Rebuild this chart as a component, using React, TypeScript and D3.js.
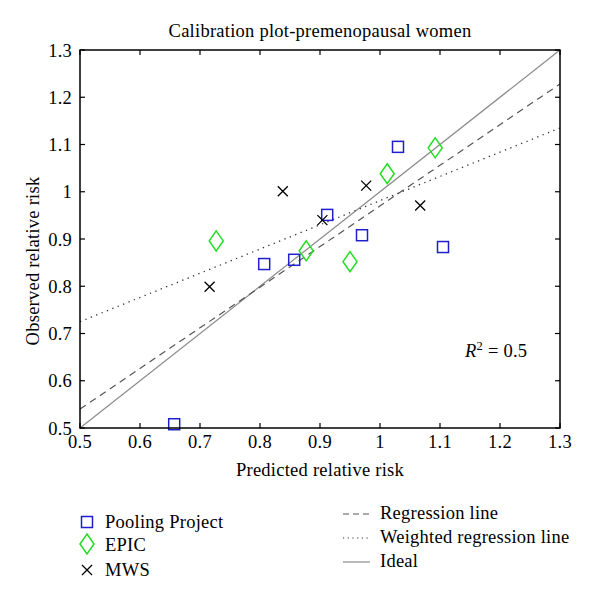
import React from "react";
import * as d3 from "d3";

const poolingX = [0.657, 0.807, 0.857, 0.912, 0.970, 1.030, 1.105];
const poolingY = [0.508, 0.847, 0.856, 0.951, 0.908, 1.095, 0.883];
const epicX = [0.727, 0.877, 0.950, 1.012, 1.092];
const epicY = [0.896, 0.875, 0.852, 1.038, 1.093];
const mwsX = [0.716, 0.838, 0.904, 0.977, 1.067];
const mwsY = [0.799, 1.001, 0.940, 1.013, 0.971];

const regressionLine = [[0.5, 0.54], [1.3, 1.228]];
const weightedLine = [[0.5, 0.725], [1.3, 1.135]];
const idealLine = [[0.5, 0.5], [1.3, 1.3]];

const xTicks = [0.5, 0.6, 0.7, 0.8, 0.9, 1.0, 1.1, 1.2, 1.3];
const yTicks = [0.5, 0.6, 0.7, 0.8, 0.9, 1.0, 1.1, 1.2, 1.3];

const FONT = "'Liberation Serif', 'Times New Roman', serif";
const FS = 18.5;
const LS = 0.25;

export default function App() {
  const W = 600, H = 601;
  const x = d3.scaleLinear().domain([0.5, 1.3]).range([80, 560]);
  const y = d3.scaleLinear().domain([0.5, 1.3]).range([428, 50]);
  const line = d3.line<number[]>().x(d => x(d[0])).y(d => y(d[1]));
  const fmt = (v: number) => (v === 1 ? "1" : d3.format(".1f")(v));
  const tl = 5;

  const square = (cx: number, cy: number, key: any) => (
    <rect key={key} x={cx - 5.5} y={cy - 5.5} width={11} height={11} fill="none" stroke="#1f1fcc" strokeWidth={1.5} />
  );
  const diamond = (cx: number, cy: number, key: any) => (
    <path key={key} d={`M${cx},${cy - 10}L${cx + 7},${cy}L${cx},${cy + 10}L${cx - 7},${cy}Z`} fill="none" stroke="#22dd22" strokeWidth={1.5} />
  );
  const cross = (cx: number, cy: number, key: any) => (
    <path key={key} d={`M${cx - 5},${cy - 5}L${cx + 5},${cy + 5}M${cx - 5},${cy + 5}L${cx + 5},${cy - 5}`} stroke="#000" strokeWidth={1.3} />
  );

  return (
    <svg width={W} height={H} style={{ position: "absolute", left: 0, top: 0 }} fontFamily={FONT} fontSize={FS} letterSpacing={LS}>
      <rect width={W} height={H} fill="#fff" />
      <text x={320} y={37} textAnchor="middle">Calibration plot-premenopausal women</text>

      {/* lines */}
      <path d={line(idealLine) || ""} fill="none" stroke="#8a8a8a" strokeWidth={1.2} />
      <path d={line(regressionLine) || ""} fill="none" stroke="#555" strokeWidth={1.2} strokeDasharray="7,5" />
      <path d={line(weightedLine) || ""} fill="none" stroke="#333" strokeWidth={1.3} strokeDasharray="1.3,4.5" />

      {/* markers */}
      {poolingX.map((v, i) => square(x(v), y(poolingY[i]), "p" + i))}
      {epicX.map((v, i) => diamond(x(v), y(epicY[i]), "e" + i))}
      {mwsX.map((v, i) => cross(x(v), y(mwsY[i]), "m" + i))}

      {/* frame */}
      <rect x={80} y={50} width={480} height={378} fill="none" stroke="#000" strokeWidth={1.5} />
      {xTicks.map((t, i) => (
        <g key={"xt" + i}>
          <line x1={x(t)} x2={x(t)} y1={428} y2={428 - tl} stroke="#000" strokeWidth={1.2} />
          <line x1={x(t)} x2={x(t)} y1={50} y2={50 + tl} stroke="#000" strokeWidth={1.2} />
          <text x={x(t)} y={448} textAnchor="middle">{fmt(t)}</text>
        </g>
      ))}
      {yTicks.map((t, i) => (
        <g key={"yt" + i}>
          <line x1={80} x2={80 + tl} y1={y(t)} y2={y(t)} stroke="#000" strokeWidth={1.2} />
          <line x1={560} x2={560 - tl} y1={y(t)} y2={y(t)} stroke="#000" strokeWidth={1.2} />
          <text x={72} y={y(t) + 6.5} textAnchor="end">{fmt(t)}</text>
        </g>
      ))}

      <text x={320} y={476} textAnchor="middle">Predicted relative risk</text>
      <text transform="translate(39,261) rotate(-90)" textAnchor="middle">Observed relative risk</text>

      <text x={465} y={357}>
        <tspan fontStyle="italic">R</tspan>
        <tspan dy={-7} fontSize={12.5}>2</tspan>
        <tspan dy={7}> = 0.5</tspan>
      </text>

      {/* legend left */}
      {square(87, 522, "lp")}
      <text x={105} y={528}>Pooling Project</text>
      {diamond(87, 544, "le")}
      <text x={105} y={551}>EPIC</text>
      {cross(87, 570, "lm")}
      <text x={105} y={576}>MWS</text>

      {/* legend right */}
      <line x1={343} x2={370} y1={514} y2={514} stroke="#555" strokeWidth={1.2} strokeDasharray="6,4" />
      <text x={380} y={519}>Regression line</text>
      <line x1={343} x2={370} y1={538} y2={538} stroke="#333" strokeWidth={1.2} strokeDasharray="1.2,3.5" />
      <text x={380} y={543}>Weighted regression line</text>
      <line x1={343} x2={370} y1={562} y2={562} stroke="#8a8a8a" strokeWidth={1.2} />
      <text x={380} y={567}>Ideal</text>
    </svg>
  );
}
